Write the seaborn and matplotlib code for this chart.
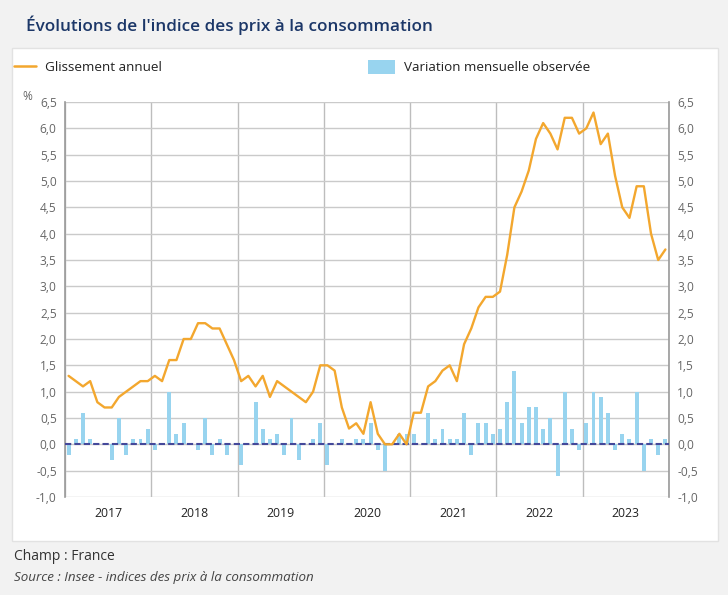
import numpy as np
import pandas as pd
import matplotlib
matplotlib.use("Agg")
import matplotlib.pyplot as plt
import seaborn as sns
from matplotlib.patches import Rectangle, Patch
from matplotlib.lines import Line2D
from matplotlib.ticker import FuncFormatter

years = ["2017", "2018", "2019", "2020", "2021", "2022", "2023"]

glissement = [
    1.3, 1.2, 1.1, 1.2, 0.8, 0.7, 0.7, 0.9, 1.0, 1.1, 1.2, 1.2,   # 2017
    1.3, 1.2, 1.6, 1.6, 2.0, 2.0, 2.3, 2.3, 2.2, 2.2, 1.9, 1.6,   # 2018
    1.2, 1.3, 1.1, 1.3, 0.9, 1.2, 1.1, 1.0, 0.9, 0.8, 1.0, 1.5,   # 2019
    1.5, 1.4, 0.7, 0.3, 0.4, 0.2, 0.8, 0.2, 0.0, 0.0, 0.2, 0.0,   # 2020
    0.6, 0.6, 1.1, 1.2, 1.4, 1.5, 1.2, 1.9, 2.2, 2.6, 2.8, 2.8,   # 2021
    2.9, 3.6, 4.5, 4.8, 5.2, 5.8, 6.1, 5.9, 5.6, 6.2, 6.2, 5.9,   # 2022
    6.0, 6.3, 5.7, 5.9, 5.1, 4.5, 4.3, 4.9, 4.9, 4.0, 3.5, 3.7,   # 2023
]

variation = [
    -0.2, 0.1, 0.6, 0.1, 0.0, 0.0, -0.3, 0.5, -0.2, 0.1, 0.1, 0.3,   # 2017
    -0.1, 0.0, 1.0, 0.2, 0.4, 0.0, -0.1, 0.5, -0.2, 0.1, -0.2, 0.0,  # 2018
    -0.4, 0.0, 0.8, 0.3, 0.1, 0.2, -0.2, 0.5, -0.3, 0.0, 0.1, 0.4,   # 2019
    -0.4, 0.0, 0.1, 0.0, 0.1, 0.1, 0.4, -0.1, -0.5, 0.0, 0.2, 0.2,   # 2020
    0.2, 0.0, 0.6, 0.1, 0.3, 0.1, 0.1, 0.6, -0.2, 0.4, 0.4, 0.2,     # 2021
    0.3, 0.8, 1.4, 0.4, 0.7, 0.7, 0.3, 0.5, -0.6, 1.0, 0.3, -0.1,    # 2022
    0.4, 1.0, 0.9, 0.6, -0.1, 0.2, 0.1, 1.0, -0.5, 0.1, -0.2, 0.1,   # 2023
]

y_ticks = [-1.0, -0.5, 0.0, 0.5, 1.0, 1.5, 2.0, 2.5, 3.0, 3.5, 4.0, 4.5, 5.0, 5.5, 6.0, 6.5]

month_idx = np.arange(len(glissement))
df = pd.DataFrame({"mois": month_idx, "glissement": glissement, "variation": variation})

sns.set_theme(style="white")
plt.rcParams["font.family"] = ["Open Sans", "DejaVu Sans"]

W, H = 728, 595
fig = plt.figure(figsize=(W / 100, H / 100), dpi=100)
fig.patch.set_facecolor("#f2f2f2")

# white panel
panel = Rectangle((12 / W, 1 - 541 / H), (718 - 12) / W, (541 - 48) / H,
                  transform=fig.transFigure, facecolor="white",
                  edgecolor="#e2e2e2", linewidth=1, zorder=-5)
fig.patches.append(panel)

ax = fig.add_axes([65 / W, 1 - 497 / H, (669 - 65) / W, (497 - 102) / H])
ax.set_facecolor("none")

BAR_COLOR = "#98d4ef"
LINE_COLOR = "#f3a72e"

sns.barplot(data=df, x="mois", y="variation", native_scale=True, color=BAR_COLOR,
            width=0.55, saturation=1, ax=ax, zorder=2, linewidth=0)
sns.lineplot(data=df, x="mois", y="glissement", color=LINE_COLOR, linewidth=1.7,
             ax=ax, zorder=4)
ax.axhline(0, color="#44489a", linewidth=1.5, linestyle=(0, (3, 1.5)), zorder=3)

ax.set_xlim(-0.5, len(glissement) - 0.5)
ax.set_ylim(-1.0, 6.5)
ax.set_xlabel("")
ax.set_ylabel("")

fmt = FuncFormatter(lambda v, p: f"{v:.1f}".replace(".", ","))
ax.set_yticks(y_ticks)
ax.yaxis.set_major_formatter(fmt)
ax.tick_params(axis="y", length=0, pad=6, labelsize=8.6, labelcolor="#666666")

# year separators (major ticks) and year labels (minor ticks)
bounds = [-0.5 + 12 * i for i in range(len(years) + 1)]
centers = [5.5 + 12 * i for i in range(len(years))]
ax.set_xticks(bounds)
ax.set_xticklabels([])
ax.set_xticks(centers, minor=True)
ax.set_xticklabels(years, minor=True)
ax.tick_params(axis="x", which="major", length=17, width=1, color="#bdbdbd", direction="out")
ax.tick_params(axis="x", which="minor", length=0, pad=7, labelsize=8.8, labelcolor="#222222")

ax.grid(axis="y", color="#cacaca", linewidth=1)
ax.grid(axis="x", which="major", color="#bdbdbd", linewidth=1)
ax.set_axisbelow(True)
for s in ["top", "bottom"]:
    ax.spines[s].set_visible(False)
for s in ["left", "right"]:
    ax.spines[s].set_color("#9a9a9a")
    ax.spines[s].set_linewidth(1.2)

ax2 = ax.twinx()
ax2.set_ylim(ax.get_ylim())
ax2.set_yticks(y_ticks)
ax2.yaxis.set_major_formatter(fmt)
ax2.tick_params(axis="y", length=0, pad=6, labelsize=8.6, labelcolor="#666666")
for s in ax2.spines.values():
    s.set_visible(False)
ax2.grid(False)

fig.text(22 / W, 1 - 97 / H, "%", fontsize=8.6, color="#666666", va="center", ha="left")

# title
fig.text(26 / W, 1 - 25 / H, "Évolutions de l'indice des prix à la consommation",
         fontsize=12.3, fontweight="semibold", color="#1c3768", va="center", ha="left")

# legends
LEG_FS = 9.7
leg1 = fig.legend([Line2D([0], [0], color=LINE_COLOR, linewidth=1.8)],
                  ["Glissement annuel"],
                  loc="center left", bbox_to_anchor=(14 / W, 1 - 67 / H),
                  frameon=False, fontsize=LEG_FS, handlelength=1.6, handleheight=1.25,
                  handletextpad=0.68, borderpad=0, borderaxespad=0,
                  labelcolor="#222222")
leg2 = fig.legend([Patch(facecolor=BAR_COLOR, edgecolor="none")],
                  ["Variation mensuelle observée"],
                  loc="center left", bbox_to_anchor=(368 / W, 1 - 67 / H),
                  frameon=False, fontsize=LEG_FS, handlelength=2.0, handleheight=1.25,
                  handletextpad=0.66, borderpad=0, borderaxespad=0,
                  labelcolor="#222222")

# footer
fig.text(14 / W, 1 - 556 / H, "Champ : France", fontsize=10, color="#333333",
         va="center", ha="left")
fig.text(14 / W, 1 - 578 / H, "Source : Insee - indices des prix à la consommation",
         fontsize=9.6, style="italic", color="#444444", va="center", ha="left")

fig.savefig("out.png", dpi=100, facecolor=fig.get_facecolor())
